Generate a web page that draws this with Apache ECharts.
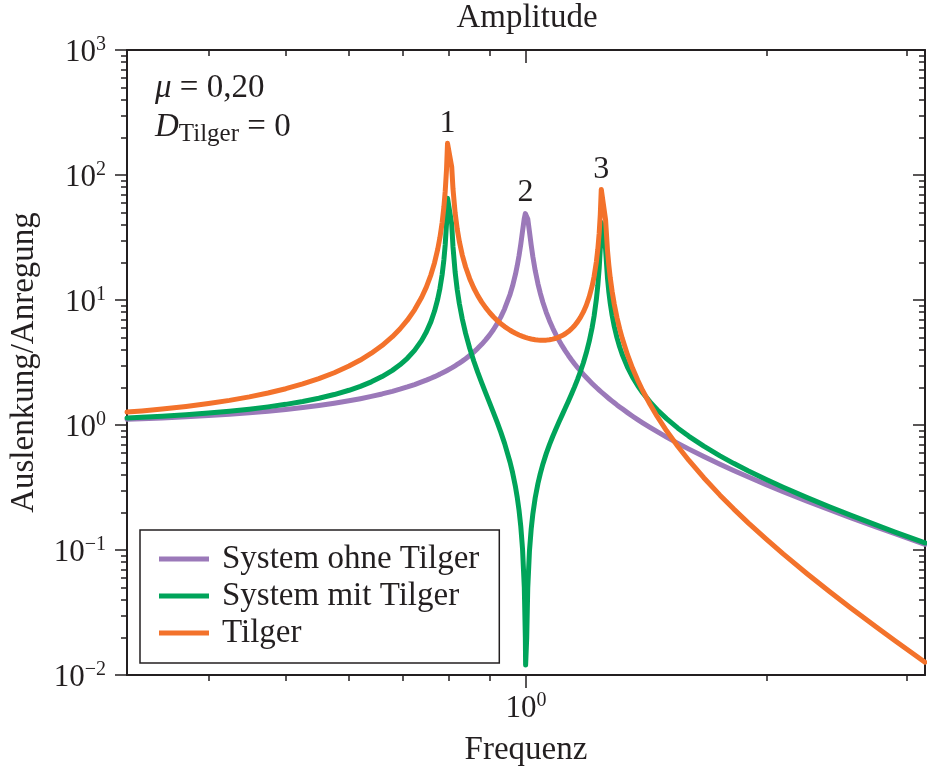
<!DOCTYPE html>
<html><head><meta charset="utf-8">
<script src="https://cdn.jsdelivr.net/npm/echarts@6/dist/echarts.min.js"></script>
<style>html,body{margin:0;padding:0;background:#fff}#c{width:927px;height:772px}</style>
</head><body><div id="c"></div>
<script>
// ---- data ----
const freq = [0.3162, 0.33, 0.35, 0.375, 0.4, 0.425, 0.45, 0.475, 0.5, 0.525, 0.55, 0.575, 0.6, 0.62, 0.64, 0.66,
  0.68, 0.695, 0.71, 0.725, 0.74, 0.75, 0.76, 0.768, 0.775, 0.78, 0.785, 0.789, 0.792, 0.795, 0.7973,
  0.807, 0.81, 0.815, 0.82, 0.825, 0.832, 0.84, 0.85, 0.86, 0.87, 0.88, 0.89, 0.9, 0.91, 0.92, 0.93, 0.94,
  0.955, 0.962, 0.97, 0.975, 0.98, 0.985, 0.99, 0.995, 0.998, 0.9988, 1.0012, 1.002, 1.005, 1.01, 1.015, 1.02,
  1.027, 1.035, 1.042, 1.05, 1.06, 1.07, 1.08, 1.09, 1.1, 1.11, 1.12, 1.13, 1.14, 1.15, 1.16, 1.17, 1.18, 1.19,
  1.2, 1.21, 1.217, 1.225, 1.23, 1.235, 1.239, 1.2425, 1.258, 1.265, 1.27, 1.275, 1.282, 1.29, 1.3, 1.31, 1.32,
  1.34, 1.36, 1.38, 1.4, 1.43, 1.46, 1.5, 1.55, 1.6, 1.67, 1.75, 1.82, 1.9, 2.0, 2.1, 2.25, 2.4, 2.55, 2.75, 2.9, 3.162];
const ohneTilger = [1.111, 1.122, 1.140, 1.164, 1.190, 1.220, 1.254, 1.291, 1.333, 1.381, 1.434, 1.494, 1.562, 1.624, 1.694, 1.772,
  1.860, 1.934, 2.016, 2.107, 2.210, 2.284, 2.367, 2.436, 2.504, 2.552, 2.606, 2.647, 2.683, 2.715, 2.745,
  2.864, 2.905, 2.975, 3.049, 3.127, 3.244, 3.391, 3.597, 3.832, 4.103, 4.419, 4.793, 5.240, 5.785, 6.464, 7.333, 8.481,
  11.11, 12.99, 16.08, 18.84, 22.63, 28.01, 35.62, 44.92, 49.12, 49.70, 49.58, 48.93, 44.52, 35.09, 27.47, 22.10,
  17.11, 13.48, 11.33, 9.558, 7.974, 6.827, 5.960, 5.281, 4.736, 4.289, 3.916, 3.599, 3.328, 3.093, 2.887, 2.705, 2.544, 2.399,
  2.269, 2.152, 2.076, 1.995, 1.948, 1.902, 1.867, 1.837, 1.715, 1.665, 1.630, 1.597, 1.553, 1.505, 1.448, 1.396, 1.346,
  1.256, 1.176, 1.105, 1.041, 0.9567, 0.8834, 0.8000, 0.7130, 0.6410, 0.5590, 0.4848, 0.4325, 0.3831, 0.3333, 0.2933, 0.2462, 0.2101, 0.1817, 0.1524, 0.1350, 0.1111];
const mitTilger = [1.139, 1.154, 1.177, 1.210, 1.247, 1.290, 1.339, 1.396, 1.463, 1.543, 1.637, 1.753, 1.896, 2.038, 2.214, 2.439,
  2.736, 3.029, 3.418, 3.956, 4.755, 5.545, 6.715, 8.158, 10.14, 12.37, 15.97, 20.99, 27.66, 40.89, 65.24,
  40.44, 26.55, 16.70, 12.06, 9.358, 7.040, 5.407, 4.111, 3.250, 2.634, 2.170, 1.805, 1.509, 1.263, 1.054, 0.8731, 0.7133,
  0.5037, 0.4153, 0.3200, 0.2631, 0.2079, 0.1542, 0.1017, 0.0504, 0.0201, 0.0120, 0.0120, 0.0199, 0.0497, 0.0987, 0.1473, 0.1957,
  0.2632, 0.3405, 0.4088, 0.4881, 0.5901, 0.6967, 0.8094, 0.9301, 1.061, 1.205, 1.367, 1.549, 1.761, 2.009, 2.309, 2.679, 3.152, 3.780,
  4.661, 5.994, 7.427, 10.11, 12.98, 18.00, 25.89, 41.71, 25.48, 14.92, 11.55, 9.439, 7.534, 6.137, 4.996, 4.223, 3.663,
  2.905, 2.414, 2.069, 1.813, 1.530, 1.325, 1.124, 0.9435, 0.8118, 0.6770, 0.5664, 0.4936, 0.4286, 0.3659, 0.3173, 0.2623, 0.2213, 0.1899, 0.1579, 0.1392, 0.1139];
const tilger = [1.27, 1.295, 1.341, 1.408, 1.485, 1.574, 1.679, 1.803, 1.951, 2.130, 2.347, 2.618, 2.962, 3.310, 3.750, 4.321,
  5.088, 5.860, 6.892, 8.340, 10.51, 12.67, 15.90, 19.89, 25.40, 31.58, 41.61, 55.61, 74.20, 111.1, 179.1,
  116.0, 77.19, 49.75, 36.82, 29.30, 22.87, 18.37, 14.82, 12.48, 10.84, 9.616, 8.681, 7.943, 7.349, 6.864, 6.463, 6.128,
  5.725, 5.570, 5.415, 5.328, 5.249, 5.177, 5.112, 5.053, 5.020, 5.012, 4.988, 4.980, 4.953, 4.911, 4.875, 4.844,
  4.809, 4.781, 4.766, 4.762, 4.775, 4.808, 4.864, 4.945, 5.053, 5.193, 5.372, 5.596, 5.877, 6.231, 6.681, 7.262, 8.032, 9.084,
  10.59, 12.91, 15.44, 20.20, 25.31, 34.26, 48.38, 76.70, 43.73, 24.86, 18.85, 15.09, 11.71, 9.241, 7.241, 5.897, 4.934,
  3.652, 2.842, 2.288, 1.888, 1.465, 1.171, 0.8989, 0.6727, 0.5204, 0.3785, 0.2746, 0.2135, 0.1642, 0.1220, 0.09306, 0.06455, 0.04650, 0.03451, 0.02407, 0.01879, 0.01266];
const seriesNames = ['System ohne Tilger', 'System mit Tilger', 'Tilger'];
const peakNames = ['1', '2', '3'];
const peakFreqs = [0.7973, 0.9988, 1.2425];
const xMajorTicks = [1];
const xMinorTicks = [0.4, 0.5, 0.6, 0.7, 0.8, 0.9, 2, 3];
const yMajorTicks = [0.01, 0.1, 1, 10, 100, 1000];
const yMinorTicks = [0.02,0.03,0.04,0.05,0.06,0.07,0.08,0.09, 0.2,0.3,0.4,0.5,0.6,0.7,0.8,0.9,
  2,3,4,5,6,7,8,9, 20,30,40,50,60,70,80,90, 200,300,400,500,600,700,800,900];
const xRange = [0.3162, 3.162];
const yRange = [0.01, 1000];

// ---- styling ----
const FONT = 'Liberation Serif';
const INK = '#231f20';
const COLORS = ['#9b79b9', '#00a45a', '#f3722b'];

function pow10Label(v) {
  const e = Math.round(Math.log10(v));
  return '{b|10}{s|' + (e < 0 ? '\u2212' + (-e) : String(e)) + '}';
}
const richExp = {
  b: { fontFamily: FONT, fontSize: 31, lineHeight: 31, color: INK, padding: [5, 0, 0, 0] },
  s: { fontFamily: FONT, fontSize: 20, lineHeight: 20, color: INK, verticalAlign: 'top' }
};

function xAxisDef(pos, ticks, len, inside, withLine, withLabel) {
  const ax = {
    type: 'log', min: xRange[0], max: xRange[1], position: pos, gridIndex: 0,
    axisLine: { show: withLine, lineStyle: { color: INK, width: 2 } },
    axisTick: { show: true, inside: inside, length: len, customValues: ticks, lineStyle: { color: INK, width: 1.5 } },
    splitLine: { show: false }, minorTick: { show: false },
    axisLabel: { show: false }
  };
  if (withLabel) {
    ax.axisLabel = { show: true, customValues: xMajorTicks, margin: 16, formatter: pow10Label, rich: richExp };
    ax.name = 'Frequenz';
    ax.nameLocation = 'middle';
    ax.nameGap = 59;
    ax.nameTextStyle = { fontFamily: FONT, fontSize: 33, color: INK };
  }
  return ax;
}
function yAxisDef(pos, ticks, len, inside, withLine, withLabel) {
  const ax = {
    type: 'log', min: yRange[0], max: yRange[1], position: pos, gridIndex: 0,
    axisLine: { show: withLine, lineStyle: { color: INK, width: 2 } },
    axisTick: { show: true, inside: inside, length: len, customValues: ticks, lineStyle: { color: INK, width: 1.5 } },
    splitLine: { show: false }, minorTick: { show: false },
    axisLabel: { show: false }
  };
  if (withLabel) {
    ax.axisLabel = { show: true, customValues: yMajorTicks, margin: 21, formatter: pow10Label, rich: richExp };
    ax.name = 'Auslenkung/Anregung';
    ax.nameLocation = 'middle';
    ax.nameGap = 86;
    ax.nameTextStyle = { fontFamily: FONT, fontSize: 33, color: INK };
  }
  return ax;
}

const valueSets = [ohneTilger, mitTilger, tilger];
function peakAt(vals, f, name) {
  const k = freq.indexOf(f);
  return { name: name, coord: [freq[k], vals[k]] };
}
const peakMarks = [
  [peakAt(ohneTilger, peakFreqs[1], peakNames[1])],
  [],
  [peakAt(tilger, peakFreqs[0], peakNames[0]), peakAt(tilger, peakFreqs[2], peakNames[2])]
];

const series = valueSets.map((vals, i) => ({
  name: seriesNames[i], type: 'line', xAxisIndex: 0, yAxisIndex: 0,
  data: freq.map((f, j) => [f, vals[j]]),
  showSymbol: false, symbol: 'none', clip: true,
  lineStyle: { width: 5, color: COLORS[i], cap: 'round', join: 'round' },
  itemStyle: { color: COLORS[i] },
  z: 2 + i,
  markPoint: peakMarks[i].length ? {
    symbol: 'circle', symbolSize: 0, silent: true,
    label: { show: true, position: 'top', distance: 4, formatter: '{b}',
      fontFamily: FONT, fontSize: 32, lineHeight: 32, color: INK },
    data: peakMarks[i]
  } : undefined
}));

const chart = echarts.init(document.getElementById('c'), null, { renderer: 'canvas' });
chart.setOption({
  animation: false,
  backgroundColor: '#fff',
  grid: { left: 125, right: 2, top: 50, bottom: 95, containLabel: false },
  xAxis: [
    xAxisDef('bottom', xMajorTicks, 13, false, true, true),
    xAxisDef('bottom', xMinorTicks, 6, false, false, false),
    xAxisDef('top', xMajorTicks, 13, true, true, false),
    xAxisDef('top', xMinorTicks, 6, true, false, false)
  ],
  yAxis: [
    yAxisDef('left', yMajorTicks, 12, false, true, true),
    yAxisDef('left', yMinorTicks, 6, false, false, false),
    yAxisDef('right', yMajorTicks, 12, true, true, false),
    yAxisDef('right', yMinorTicks, 6, true, false, false)
  ],
  legend: {
    orient: 'vertical', left: 140, top: 530,
    padding: [11, 20, 12, 19], itemGap: 1, itemWidth: 50, itemHeight: 5, icon: 'rect',
    borderColor: INK, borderWidth: 1.5, backgroundColor: '#fff',
    textStyle: { fontFamily: FONT, fontSize: 33, lineHeight: 36, color: INK, padding: [0, 0, 0, 8] },
    data: seriesNames
  },
  graphic: [
    { type: 'text', x: 527, y: 2, silent: true,
      style: { text: 'Amplitude', fontFamily: FONT, fontSize: 33, fill: INK, textAlign: 'center', textVerticalAlign: 'top' } },
    { type: 'text', x: 155, y: 72, silent: true,
      style: { text: '{i|\u03bc}{r| = 0,20}', fill: INK, textVerticalAlign: 'top',
        rich: { i: { fontFamily: FONT, fontStyle: 'italic', fontSize: 33, lineHeight: 33, fill: INK },
                r: { fontFamily: FONT, fontSize: 33, lineHeight: 33, fill: INK } } } },
    { type: 'text', x: 155, y: 114, silent: true,
      style: { text: '{i|D}{sub|Tilger}{r| = 0}', fill: INK, textVerticalAlign: 'top',
        rich: { i: { fontFamily: FONT, fontStyle: 'italic', fontSize: 33, lineHeight: 33, padding: [0, 0, 6, 0], fill: INK },
                sub: { fontFamily: FONT, fontSize: 25, lineHeight: 25, verticalAlign: 'bottom', fill: INK },
                r: { fontFamily: FONT, fontSize: 33, lineHeight: 33, padding: [0, 0, 6, 0], fill: INK } } } }
  ],
  series: series
});
</script></body></html>
